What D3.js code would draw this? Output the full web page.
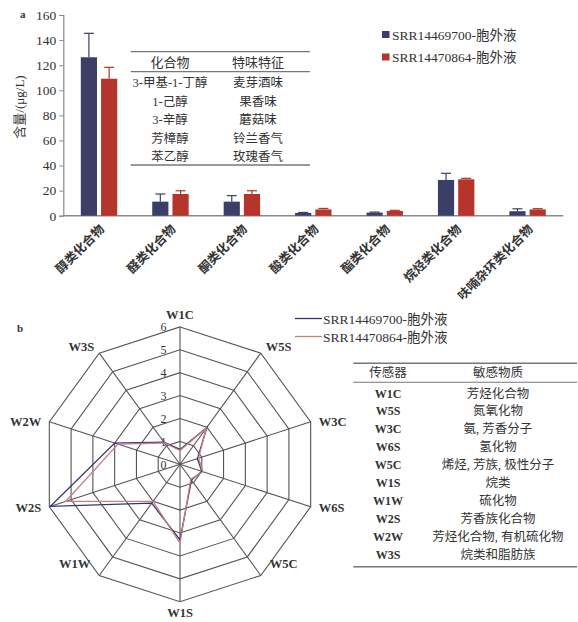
<!DOCTYPE html>
<html><head><meta charset="utf-8">
<script src="https://cdn.jsdelivr.net/npm/d3@7"></script>
<style>
html,body{margin:0;padding:0;background:#fff;}
svg{display:block;}
text{font-family:"Liberation Serif","Noto Sans CJK SC",serif;fill:#333;}
</style></head>
<body>
<svg id="c" width="578" height="622"></svg>
<script>
// ---------- Panel a data ----------
const categories = ["醇类化合物","醛类化合物","酮类化合物","酸类化合物","酯类化合物","烷烃类化合物","呋喃杂环类化合物"];
const seriesNames = ["SRR14469700-胞外液","SRR14470864-胞外液"];
const s1Values = [126.3, 11.2, 11.2, 2.2, 2.5, 28.5, 3.6];
const s1Errors = [19.1, 6.1, 4.8, 0.4, 0.4, 5.3, 1.9];
const s2Values = [109.2, 17.3, 17.3, 5.0, 3.8, 29.0, 5.0];
const s2Errors = [9.1, 2.6, 2.6, 0.8, 0.5, 0.8, 0.6];
const yTicks = [0,20,40,60,80,100,120,140,160];
const insetHeader = ["化合物","特味特征"];
const insetCompounds = ["3-甲基-1-丁醇","1-己醇","3-辛醇","芳樟醇","苯乙醇"];
const insetFlavors = ["麦芽酒味","果香味","蘑菇味","铃兰香气","玫瑰香气"];

// ---------- Panel b data ----------
const sensors = ["W1C","W5S","W3C","W6S","W5C","W1S","W1W","W2S","W2W","W3S"];
const r1Values = [0.65, 2.0, 0.8, 1.0, 0.85, 3.3, 2.1, 5.95, 3.0, 1.2];
const r2Values = [0.6, 1.95, 0.85, 1.05, 0.8, 3.45, 2.0, 5.25, 2.85, 1.15];
const rTicks = [0,1,2,3,4,5,6];
const tableHeader = ["传感器","敏感物质"];
const tableSubstances = ["芳烃化合物","氮氧化物","氨, 芳香分子","氢化物","烯烃, 芳族, 极性分子","烷类","硫化物","芳香族化合物","芳烃化合物, 有机硫化物","烷类和脂肪族"];

const colors = ["#3b3f68","#b5352c"];
const lineColors = ["#2f3278","#c98080"];

const svg = d3.select("#c");

// ================= Panel a =================
const a = svg.append("g");
const x0 = d3.scaleBand().domain(categories).range([63.3,563.3]).paddingInner(0.49).paddingOuter(0.245);
const x1 = d3.scaleBand().domain([0,1]).range([0,x0.bandwidth()]).paddingInner(0.2);
const y = d3.scaleLinear().domain([0,160]).range([215.7,15]);

// y axis
const yAx = a.append("g").attr("transform","translate(63.3,0)")
  .call(d3.axisLeft(y).tickValues(yTicks).tickSize(4).tickPadding(3));
yAx.select(".domain").attr("stroke","#8a8a8a").attr("stroke-width",1.2);
yAx.selectAll(".tick line").attr("stroke","#8a8a8a");
yAx.selectAll("text").attr("font-size",13.5).attr("fill","#333")
  .attr("font-family","Liberation Serif, serif");

// x axis line
a.append("line").attr("x1",63.3).attr("x2",563.3).attr("y1",y(0)).attr("y2",y(0))
  .attr("stroke","#8a8a8a").attr("stroke-width",1.5);

// bars
const seriesVals = [s1Values, s2Values];
const seriesErr = [s1Errors, s2Errors];
seriesVals.forEach((vals, si) => {
  const g = a.append("g");
  g.selectAll("rect").data(vals).join("rect")
    .attr("x",(d,i)=>x0(categories[i])+x1(si))
    .attr("width",x1.bandwidth())
    .attr("y",d=>y(d))
    .attr("height",d=>y(0)-y(d))
    .attr("fill",colors[si]);
  vals.forEach((v,i)=>{
    const cx = x0(categories[i])+x1(si)+x1.bandwidth()/2;
    const top = y(v+seriesErr[si][i]);
    g.append("line").attr("x1",cx).attr("x2",cx).attr("y1",y(v)).attr("y2",top)
      .attr("stroke",colors[si]).attr("stroke-width",1.2);
    g.append("line").attr("x1",cx-5).attr("x2",cx+5).attr("y1",top).attr("y2",top)
      .attr("stroke",colors[si]).attr("stroke-width",1.2);
  });
});

// category labels
a.selectAll(".cat").data(categories).join("text")
  .attr("class","cat")
  .attr("transform",d=>`translate(${x0(d)+x0.bandwidth()/2+6},${230}) rotate(-45)`)
  .attr("text-anchor","end")
  .attr("font-size",12.5)
  .attr("font-weight","bold")
  .attr("fill","#505050")
  .text(d=>d);

// y title
a.append("text").attr("transform","translate(24,107) rotate(-90)")
  .attr("text-anchor","middle").attr("font-size",13).attr("fill","#444")
  .text("含量/(μg/L)");
a.append("text").attr("x",20).attr("y",18).attr("font-size",11).attr("font-weight","bold").text("a");

// legend
seriesNames.forEach((n,i)=>{
  const ly = 34.5 + i*22.5;
  a.append("rect").attr("x",382).attr("y",ly-3.5).attr("width",7.5).attr("height",7).attr("fill",colors[i]);
  a.append("text").attr("x",392).attr("y",ly+5).attr("font-size",13.5).attr("fill","#333").text(n);
});

// inset table
const tl = 130.7, tr = 310;
[51.7, 71.7, 165].forEach(yy=>{
  a.append("line").attr("x1",tl).attr("x2",tr).attr("y1",yy).attr("y2",yy)
   .attr("stroke","#777").attr("stroke-width",1.3);
});
const c1 = 170, c2 = 258;
a.append("text").attr("x",c1).attr("y",66.5).attr("text-anchor","middle").attr("font-size",13).text(insetHeader[0]);
a.append("text").attr("x",c2).attr("y",66.5).attr("text-anchor","middle").attr("font-size",13).text(insetHeader[1]);
const rowY = d3.scaleLinear().domain([0,4]).range([87,161]);
insetCompounds.forEach((t,i)=>{
  a.append("text").attr("x",c1).attr("y",rowY(i)).attr("text-anchor","middle").attr("font-size",12.5).text(t);
  a.append("text").attr("x",c2).attr("y",rowY(i)).attr("text-anchor","middle").attr("font-size",12.5).text(insetFlavors[i]);
});

// ================= Panel b =================
const b = svg.append("g");
const cx = 180, cy = 464.3;
const r = d3.scaleLinear().domain([0,6]).range([0,137.4]);
const ang = d3.scaleLinear().domain([0,sensors.length]).range([0,2*Math.PI]);
const pt = (i,v)=>[cx + Math.sin(ang(i))*r(v), cy - Math.cos(ang(i))*r(v)];

rTicks.slice(1).forEach(t=>{
  b.append("polygon").attr("points",sensors.map((s,i)=>pt(i,t).join(",")).join(" "))
    .attr("fill","none").attr("stroke","#555").attr("stroke-width",1.1);
});
sensors.forEach((s,i)=>{
  const p = pt(i,6);
  b.append("line").attr("x1",cx).attr("y1",cy).attr("x2",p[0]).attr("y2",p[1])
    .attr("stroke","#555").attr("stroke-width",1.1);
});
rTicks.forEach(t=>{
  b.append("text").attr("x",163.5).attr("y",cy - r(t) + 4.5).attr("text-anchor","middle")
    .attr("font-size",12).attr("fill","#444").text(t);
});
const offs = {0:[0,-8,"middle"],1:[5,-2,"start"],2:[8,4,"start"],3:[8,5,"start"],4:[9,-7,"start"],
              5:[0,15,"middle"],6:[-9,-7,"end"],7:[-8,5,"end"],8:[-8,4,"end"],9:[-5,-2,"end"]};
sensors.forEach((s,i)=>{
  const p = pt(i,6), o = offs[i];
  b.append("text").attr("x",p[0]+o[0]).attr("y",p[1]+o[1]).attr("text-anchor",o[2])
    .attr("font-size",12.5).attr("font-weight","bold").attr("fill","#333").text(s);
});
const line = d3.line().curve(d3.curveLinearClosed);
[r1Values, r2Values].forEach((vals,si)=>{
  b.append("path").attr("d",line(vals.map((v,i)=>pt(i,v))))
    .attr("fill","none").attr("stroke",lineColors[si]).attr("stroke-width",1.3);
});
b.append("text").attr("x",17).attr("y",332).attr("font-size",11).attr("font-weight","bold").text("b");

seriesNames.forEach((n,i)=>{
  const ly = 318.5 + i*18;
  b.append("line").attr("x1",295).attr("x2",322).attr("y1",ly).attr("y2",ly)
    .attr("stroke",lineColors[i]).attr("stroke-width",1.3);
  b.append("text").attr("x",323).attr("y",ly+5).attr("font-size",13.5).attr("fill","#333").text(n);
});

const bl = 353.3, br = 577;
[363.3, 382.3, 566.7].forEach((yy,k)=>{
  b.append("line").attr("x1",bl).attr("x2",br).attr("y1",yy).attr("y2",yy)
    .attr("stroke","#777").attr("stroke-width",k===1?1.1:1.5);
});
const tc1 = 388, tc2 = 498;
b.append("text").attr("x",tc1).attr("y",377).attr("text-anchor","middle").attr("font-size",12.5).text(tableHeader[0]);
b.append("text").attr("x",tc2).attr("y",377).attr("text-anchor","middle").attr("font-size",12.5).text(tableHeader[1]);
const trow = d3.scaleLinear().domain([0,9]).range([397.5,558.5]);
sensors.forEach((s,i)=>{
  b.append("text").attr("x",tc1).attr("y",trow(i)).attr("text-anchor","middle").attr("font-size",12).attr("font-weight","bold").attr("fill","#444").text(s);
  b.append("text").attr("x",tc2).attr("y",trow(i)).attr("text-anchor","middle").attr("font-size",12.5).attr("fill","#333").text(tableSubstances[i]);
});
</script>
</body></html>
